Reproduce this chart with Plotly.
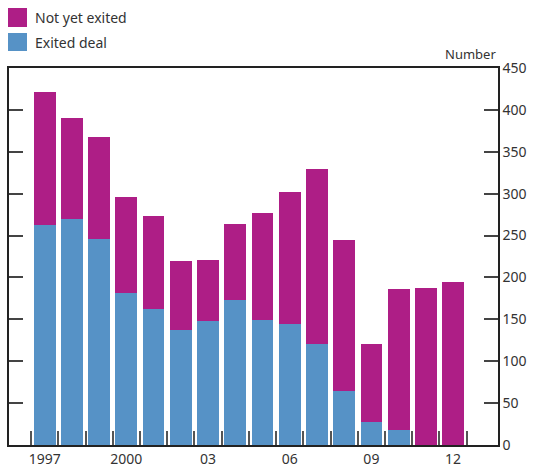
import plotly.graph_objects as go

years = list(range(1997, 2013))
totals = [421, 390, 368, 296, 273, 220, 221, 264, 277, 302, 329, 245, 120, 186, 188, 195]
exited = [263, 270, 246, 182, 162, 137, 148, 173, 149, 144, 121, 64, 27, 18, 0, 0]
not_exited = [t - e for t, e in zip(totals, exited)]

tick_years = [1997, 2000, 2003, 2006, 2009, 2012]
tick_text = ["1997", "2000", "03", "06", "09", "12"]
boundaries = [y - 0.5 for y in years] + [years[-1] + 0.5]
y_ticks = list(range(0, 451, 50))

BLUE = "#5692c6"
MAGENTA = "#ae1e86"
TXT = "#333333"
FONT = "Noto Sans"

fig = go.Figure()
fig.add_trace(go.Bar(x=years, y=exited, name="Exited deal", marker_color=BLUE,
                     marker_line_width=0, width=0.8, showlegend=False))
fig.add_trace(go.Bar(x=years, y=not_exited, name="Not yet exited", marker_color=MAGENTA,
                     marker_line_width=0, width=0.8, showlegend=False))

W, H = 534, 464
L, R, T, B = 9, 36, 68, 19
pw, ph = W - L - R, H - T - B

def px_x(p):
    return (p - L) / pw

def px_y(p):
    return (H - B - p) / ph

# manual legend
legend_items = [("Not yet exited", MAGENTA, 8, 27), ("Exited deal", BLUE, 33, 51)]
shapes = []
annotations = []
for name, col, y0, y1 in legend_items:
    shapes.append(dict(type="rect", xref="paper", yref="paper",
                       x0=px_x(8), x1=px_x(27), y0=px_y(y1), y1=px_y(y0),
                       fillcolor=col, line_width=0))
    annotations.append(dict(text=name, xref="paper", yref="paper", x=px_x(33),
                            y=px_y((y0 + y1) / 2), xanchor="left", yanchor="middle",
                            showarrow=False, font=dict(family=FONT, size=14, color=TXT)))
annotations.append(dict(text="Number", xref="paper", yref="paper", x=1, y=1,
                        xanchor="right", yanchor="bottom", yshift=3, showarrow=False,
                        font=dict(family=FONT, size=13, color=TXT)))

fig.update_layout(
    width=W, height=H, margin=dict(l=L, r=R, t=T, b=B, autoexpand=False),
    barmode="stack", bargap=0.2,
    plot_bgcolor="white", paper_bgcolor="white",
    font=dict(family=FONT, size=14, color=TXT),
    shapes=shapes, annotations=annotations,
    xaxis=dict(range=[1995.69, 2013.65], tickmode="array", tickvals=tick_years,
               ticktext=tick_text, ticks="", showgrid=False, zeroline=False,
               automargin=False,
               showline=True, linecolor="#222222", linewidth=1.5, mirror=True,
               tickfont=dict(family=FONT, size=14, color=TXT),
               minor=dict(tickmode="array", tickvals=boundaries, ticks="inside",
                          ticklen=14, tickwidth=1.5, tickcolor="#555555", showgrid=False)),
    yaxis=dict(range=[0, 450], tickmode="array", tickvals=y_ticks, side="right",
               ticks="inside", ticklen=14, tickwidth=1.5, tickcolor="#444444",
               automargin=False,
               showgrid=False, zeroline=False, showline=True, linecolor="#222222",
               linewidth=1.5, mirror="ticks",
               tickfont=dict(family=FONT, size=14, color=TXT)),
)

fig.write_html("out.html", config={"displayModeBar": False},
               post_script="document.body.style.margin='0';")
